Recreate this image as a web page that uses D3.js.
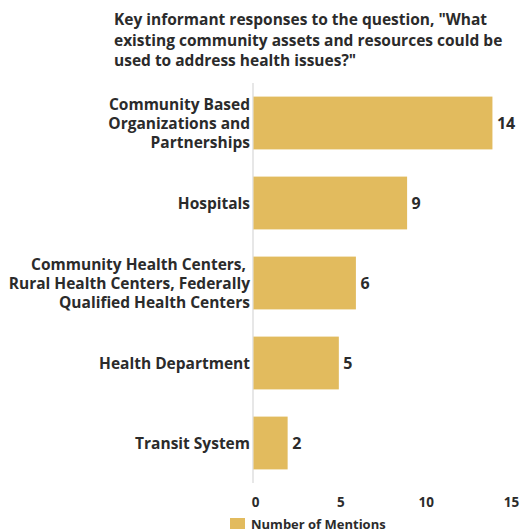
<!DOCTYPE html>
<html>
<head>
<meta charset="utf-8">
<script src="https://cdn.jsdelivr.net/npm/d3@7"></script>
<style>
  body { margin: 0; background: #fff; }
  text { font-family: "Open Sans", "Noto Sans", sans-serif; font-weight: bold; fill: #2b2b2b; white-space: pre; }
</style>
</head>
<body>
<div id="chart"></div>
<script>
var categories = [
  ['Community Based', 'Organizations and', 'Partnerships'],
  ['Hospitals'],
  ['Community Health Centers, ', 'Rural Health Centers, Federally', 'Qualified Health Centers'],
  ['Health Department'],
  ['Transit System']
];
var mentions = [14, 9, 6, 5, 2];
var xTicks = [0, 5, 10, 15];
var titleLines = [
  'Key informant responses to the question, "What',
  'existing community assets and resources could be',
  'used to address health issues?"'
];
var seriesName = 'Number of Mentions';

var svgWidth = 525;
var svgHeight = 529;

var svg = d3.select('#chart').append('svg')
  .attr('width', svgWidth)
  .attr('height', svgHeight);

// title
svg.append('text')
  .attr('x', 114)
  .attr('y', 25)
  .style('font-size', '15.5px')
  .selectAll('tspan')
  .data(titleLines)
  .enter().append('tspan')
  .attr('x', 114)
  .attr('dy', function (d, i) { return i === 0 ? 0 : 20.5; })
  .text(function (d) { return d; });

var xScale = d3.scaleLinear()
  .domain([0, 15])
  .range([253, 509]);
var yScale = d3.scaleBand()
  .domain(d3.range(categories.length))
  .range([83, 483])
  .paddingInner(0.34)
  .paddingOuter(0.17);

// axis line
svg.append('line')
  .attr('x1', xScale(0))
  .attr('x2', xScale(0))
  .attr('y1', 83)
  .attr('y2', 483)
  .attr('stroke', '#cfcfcf')
  .attr('stroke-width', 1);

// bars
svg.selectAll('.bar')
  .data(mentions)
  .enter().append('rect')
  .attr('class', 'bar')
  .attr('x', xScale(0) + 0.5)
  .attr('y', function (d, i) { return yScale(i); })
  .attr('width', function (d) { return xScale(d) - xScale(0); })
  .attr('height', yScale.bandwidth())
  .attr('fill', '#e2bb5e');

// value labels
svg.selectAll('.value')
  .data(mentions)
  .enter().append('text')
  .attr('class', 'value')
  .attr('x', function (d) { return xScale(d) + 5; })
  .attr('y', function (d, i) { return yScale(i) + yScale.bandwidth() / 2; })
  .attr('dy', '0.36em')
  .style('font-size', '16px')
  .text(function (d) { return d; });

// category labels
var labels = svg.selectAll('.cat')
  .data(categories)
  .enter().append('text')
  .attr('class', 'cat')
  .attr('text-anchor', 'end')
  .style('font-size', '15.5px')
  .attr('y', function (d, i) {
    return yScale(i) + yScale.bandwidth() / 2 - (d.length - 1) * 19 / 2;
  });
labels.selectAll('tspan')
  .data(function (d) { return d; })
  .enter().append('tspan')
  .attr('x', 250)
  .attr('dy', function (d, i) { return i === 0 ? '0.36em' : 19; })
  .text(function (d) { return d; });

// x tick labels
var xAxis = d3.axisBottom(xScale)
  .tickValues(xTicks)
  .tickSize(0)
  .tickPadding(0);
var gx = svg.append('g')
  .attr('transform', 'translate(2, 497)')
  .call(xAxis);
gx.select('.domain').remove();
gx.selectAll('text')
  .attr('fill', '#2b2b2b')
  .style('font-size', '13.5px')
  .style('font-family', '"Open Sans", sans-serif')
  .style('font-weight', 'bold');

// legend
svg.append('rect')
  .attr('x', 230)
  .attr('y', 518)
  .attr('width', 15)
  .attr('height', 15)
  .attr('fill', '#e2bb5e');
svg.append('text')
  .attr('x', 251)
  .attr('y', 524)
  .attr('dy', '0.36em')
  .style('font-size', '13px')
  .text(seriesName);
</script>
</body>
</html>
